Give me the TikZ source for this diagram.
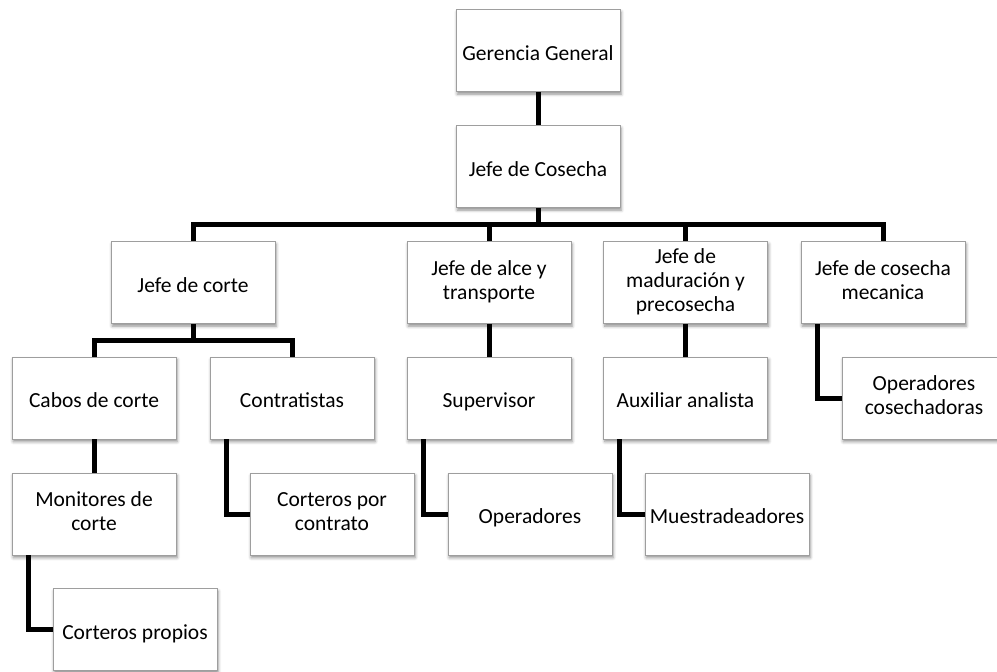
\documentclass[tikz,border=0pt]{standalone}
\usepackage{fontspec}
\setmainfont{Carlito}
\usetikzlibrary{shadows.blur}

% fixed line extent so every label sits at the same height in its box
\newcommand\boxstrut{\rule[-5pt]{0pt}{29pt}}

\tikzset{
  orgbox/.style={
    draw=black!38, line width=0.9pt, fill=white,
    minimum width=164pt, minimum height=82pt,
    align=center, font=\fontsize{21.5}{24}\selectfont, inner sep=1pt,
    execute at begin node=\boxstrut, execute at end node=\boxstrut,
    blur shadow={shadow xshift=1.2pt, shadow yshift=-2.6pt,
                 shadow blur radius=3pt, shadow opacity=45}
  },
  link/.style={line width=5pt, black, line join=miter}
}

\begin{document}
\begin{tikzpicture}[x=1pt, y=-1pt]
  \useasboundingbox (0,0) rectangle (997,672);

  \coordinate (bar1) at (538,224);
  \coordinate (bar2) at (193,340);

  % ---- boxes ----
  \node[orgbox] (gg)    at (538,50.5)  {Gerencia General};
  \node[orgbox] (jc)    at (538,166.5) {Jefe de Cosecha};

  \node[orgbox] (jcorte) at (193,282.5)   {Jefe de corte};
  \node[orgbox] (alce)   at (489,282.5)   {Jefe de alce y\\transporte};
  \node[orgbox] (mad)    at (685.5,282.5) {Jefe de\\maduración y\\precosecha};
  \node[orgbox] (mec)    at (883,282.5)   {Jefe de cosecha\\mecanica};

  \node[orgbox] (cabos) at (94,398)    {Cabos de corte};
  \node[orgbox] (contr) at (292,398)   {Contratistas};
  \node[orgbox] (sup)   at (489,398)   {Supervisor};
  \node[orgbox] (aux)   at (685.5,398) {Auxiliar analista};
  \node[orgbox] (opcos) at (924,398)   {Operadores\\cosechadoras};

  \node[orgbox] (monit) at (94,514)  {Monitores de\\corte};
  \node[orgbox] (cpc)   at (332,514) {Corteros por\\contrato};
  \node[orgbox] (oper)  at (530,514) {Operadores};
  \node[orgbox] (muest) at (727,514) {Muestradeadores};

  \node[orgbox] (cprop) at (135,629.5) {Corteros propios};

  % ---- connectors ----
  \begin{scope}[link]
    \draw (gg.south) -- (jc.north);
    \draw (jc.south) -- (jc.south |- bar1);
    \draw (jcorte.north) |- (mec.north |- bar1) -- (mec.north);
    \draw (alce.north) -- (alce.north |- bar1);
    \draw (mad.north) -- (mad.north |- bar1);

    \draw (jcorte.south) -- (jcorte.south |- bar2);
    \draw (cabos.north) |- (contr.north |- bar2) -- (contr.north);

    \draw (alce.south) -- (sup.north);
    \draw (mad.south) -- (aux.north);
    \draw (cabos.south) -- (monit.north);

    \draw ([xshift=16.5pt]contr.south west) |- (cpc.west);
    \draw ([xshift=16.5pt]sup.south west)   |- (oper.west);
    \draw ([xshift=16.5pt]aux.south west)   |- (muest.west);
    \draw ([xshift=16.5pt]mec.south west)   |- (opcos.west);
    \draw ([xshift=16.5pt]monit.south west) |- (cprop.west);
  \end{scope}
\end{tikzpicture}
\end{document}
